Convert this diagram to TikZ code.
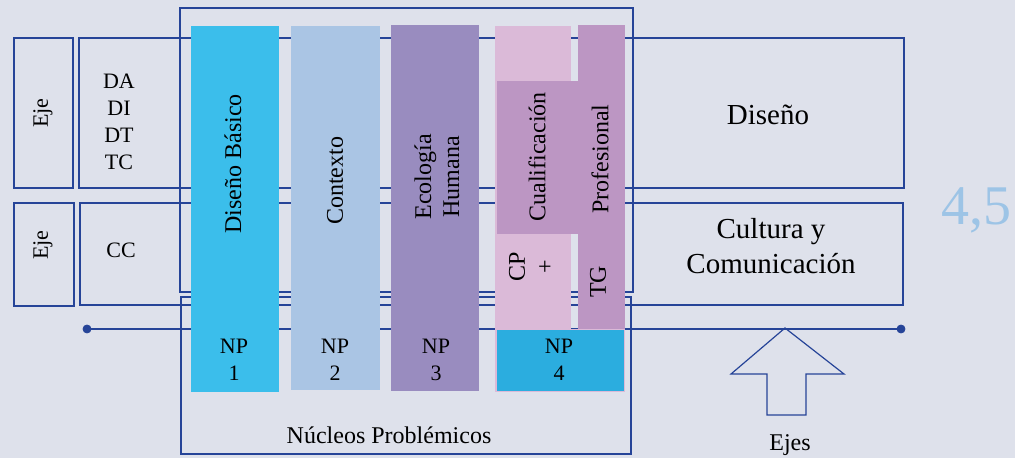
\documentclass[tikz,border=0pt]{standalone}
\usepackage{fontspec}
\setmainfont{Liberation Serif}
\usepackage{tikz}
\usetikzlibrary{positioning}

\definecolor{fondo}{RGB}{222,225,235}
\definecolor{linea}{RGB}{38,68,152}
\definecolor{npuno}{RGB}{59,190,235}
\definecolor{npdos}{RGB}{170,197,228}
\definecolor{nptres}{RGB}{153,140,191}
\definecolor{rosa}{RGB}{219,186,216}
\definecolor{malva}{RGB}{188,150,195}
\definecolor{npcuatro}{RGB}{43,173,223}
\definecolor{cifra}{RGB}{157,196,230}

\tikzset{caja/.style={draw=linea, line width=0.6pt},
chico/.style={font=\fontsize{11}{13.5}\selectfont, align=center, inner sep=0pt},
medio/.style={font=\fontsize{12}{14}\selectfont, align=center, inner sep=0pt},
grande/.style={font=\fontsize{14.5}{17.5}\selectfont, align=center, inner sep=0pt}}

\begin{document}
\begin{tikzpicture}[x=0.5pt,y=-0.5pt]
\fill[fondo] (0,0) rectangle (1015,458);
\useasboundingbox (0,0) rectangle (1015,458);
% marcos y filas
\draw[caja] (180,8) rectangle (633,292);
\draw[caja] (181,297) rectangle (631,454);
\draw[caja] (79,38) rectangle (904,188);
\draw[caja] (80,203) rectangle (903,305);
\draw[caja] (14,38) rectangle (73,188);
\draw[caja] (14,203) rectangle (74,306);
\coordinate (ejeL) at (87,329);
\coordinate (ejeR) at (901,329);
\draw[caja] (ejeL)--(ejeR);
\filldraw[linea] (ejeL) circle (4) (ejeR) circle (4);
% nucleos
\fill[npuno] (191,26) rectangle (279,392);
\fill[npdos] (291,26) rectangle (380,390);
\fill[nptres] (391,25) rectangle (479,391);
\fill[rosa] (495,26) rectangle (571,392);
\fill[malva] (578,25) rectangle (625,392);
\fill[malva] (497,81) rectangle (578,234);
\filldraw[fill=npcuatro, draw=rosa, line width=0.4pt] (496,329) rectangle (624,391);
% textos
\node[chico, rotate=90] (eje1) at (43,113) {Eje};
\node[chico, rotate=90] (eje2) at (43,245) {Eje};
\node[chico] (ejes1) at (119,122) {DA\\DI\\DT\\TC};
\node[chico] (ejes2) at (121,250) {CC};
\node[medio, rotate=90] (basico) at (233,164) {Diseño Básico};
\node[medio, rotate=90] (contexto) at (335,181) {Contexto};
\node[medio, rotate=90] (ecologia) at (437,177) {Ecología\\Humana};
\node[medio, rotate=90] (cualif) at (537,157) {Cualificación};
\node[medio, rotate=90] (profes) at (600,159) {Profesional};
\node[medio, rotate=90] (cp) at (531,267) {CP\\+};
\node[medio, rotate=90] (tg) at (598,282) {TG};
\node[chico] (np1) at (234,360) {NP\\1};
\node[chico] (np2) at (335,360) {NP\\2};
\node[chico] (np3) at (436,360) {NP\\3};
\node[chico] (np4) at (559,360) {NP\\4};
\node[medio] (nucleos) at (389,435) {Núcleos Problémicos};
\node[grande] (diseno) at (768,115) {Diseño};
\node[grande] (cultura) at (771,246) {Cultura y\\Comunicación};
\node[font=\fontsize{28}{30}\selectfont, text=cifra, inner sep=0pt, anchor=base] (cifra) at (976,225) {4,5};
% flecha
\coordinate (punta) at (785,328);
\draw[caja] (punta)--(844,374)--(806,374)--(806,415)--(767,415)--(767,374)--(731,374)--cycle;
\node[medio] (ejes) at (790,445) {Ejes};
\end{tikzpicture}
\end{document}
